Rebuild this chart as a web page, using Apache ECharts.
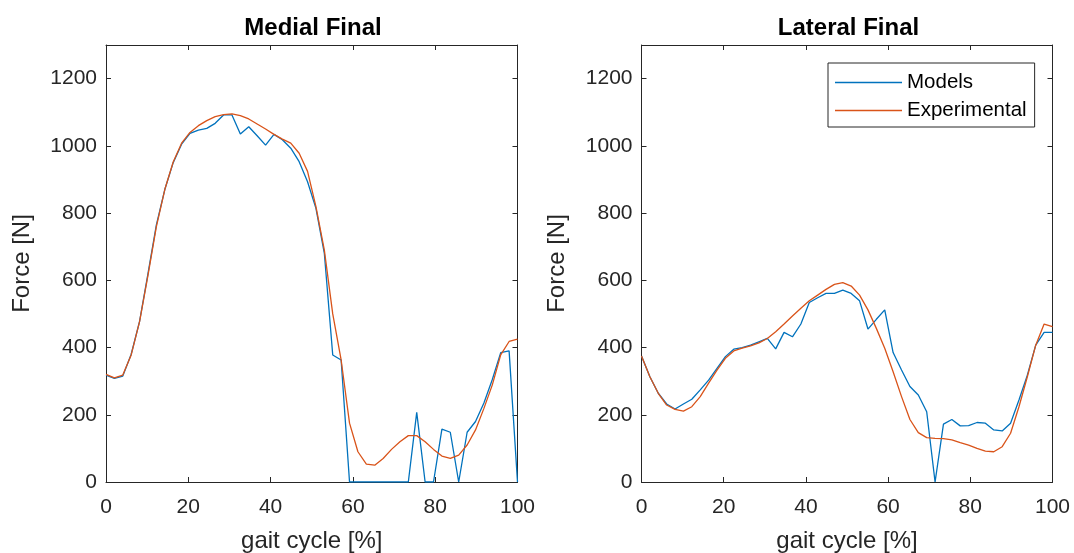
<!DOCTYPE html>
<html>
<head>
<meta charset="utf-8">
<script src="https://cdn.jsdelivr.net/npm/echarts@6/dist/echarts.min.js"></script>
<style>
html,body{margin:0;padding:0;background:#fff;}
#chart{width:1074px;height:553px;}
</style>
</head>
<body>
<div id="chart"></div>
<script>
// gait cycle sample positions [%] (50 samples)
const gaitPct = [0, 2.04, 4.08, 6.12, 8.16, 10.2, 12.24, 14.29, 16.33, 18.37,
  20.41, 22.45, 24.49, 26.53, 28.57, 30.61, 32.65, 34.69, 36.73, 38.78,
  40.82, 42.86, 44.9, 46.94, 48.98, 51.02, 53.06, 55.1, 57.14, 59.18,
  61.22, 63.27, 65.31, 67.35, 69.39, 71.43, 73.47, 75.51, 77.55, 79.59,
  81.63, 83.67, 85.71, 87.76, 89.8, 91.84, 93.88, 95.92, 97.96, 100];

const medialModels = [318, 308, 315, 380, 478, 620, 765, 870, 950, 1005,
  1037, 1047, 1052, 1067, 1092, 1092, 1035, 1057, 1030, 1002,
  1034, 1018, 993, 953, 893, 814, 680, 378, 363, 0,
  0, 0, 0, 0, 0, 0, 0, 207, 0, 0,
  157, 148, 0, 148, 180, 235, 305, 385, 390, 0];

const medialExperimental = [320, 310, 318, 378, 477, 615, 760, 870, 952, 1008,
  1040, 1060, 1075, 1087, 1093, 1095, 1090, 1080, 1065, 1050,
  1034, 1020, 1008, 978, 924, 819, 690, 500, 363, 175,
  90, 53, 50, 70, 97, 120, 138, 138, 120, 97,
  77, 70, 80, 110, 155, 219, 289, 378, 418, 425];

const lateralModels = [375, 313, 264, 232, 217, 232, 246, 274, 303, 338,
  373, 395, 400, 407, 417, 427, 396, 445, 432, 470,
  534, 548, 561, 561, 571, 561, 539, 455, 484, 512,
  385, 333, 284, 259, 209, 0, 172, 186, 167, 168,
  177, 175, 155, 152, 175, 244, 318, 407, 445, 445];

const lateralExperimental = [375, 313, 264, 229, 216, 211, 224, 254, 294, 333,
  368, 390, 398, 405, 414, 427, 447, 470, 494, 517,
  539, 556, 573, 588, 593, 583, 556, 512, 457, 398,
  328, 254, 186, 147, 132, 130, 129, 125, 117, 110,
  100, 92, 90, 105, 145, 224, 313, 407, 470, 462];

const xTicks = {min: 0, max: 100, interval: 20};
const yTicks = {min: 0, max: 1300, interval: 200};
const titles = ['Medial Final', 'Lateral Final'];
const seriesNames = ['Models', 'Experimental'];

const pair = vals => gaitPct.map((x, i) => [x, vals[i]]);

const AX = '#262626';
const FONT = 'Liberation Sans, Arial, Helvetica, sans-serif';

function xAxes(gi) {
  const base = {
    gridIndex: gi, type: 'value', min: xTicks.min, max: xTicks.max, interval: xTicks.interval,
    axisLine: {show: true, onZero: false, lineStyle: {color: AX, width: 1}},
    axisTick: {show: true, inside: true, length: 5, lineStyle: {color: AX}},
    splitLine: {show: false}
  };
  return [
    Object.assign({}, base, {
      position: 'bottom',
      name: 'gait cycle [%]', nameLocation: 'middle', nameGap: 47,
      nameTextStyle: {color: AX, fontSize: 24, fontFamily: FONT},
      axisLabel: {color: AX, fontSize: 21, fontFamily: FONT, margin: 15, formatter: v => String(v)}
    }),
    Object.assign({}, base, {position: 'top', axisLabel: {show: false}})
  ];
}
function yAxes(gi) {
  const base = {
    gridIndex: gi, type: 'value', min: yTicks.min, max: yTicks.max, interval: yTicks.interval,
    axisLine: {show: true, onZero: false, lineStyle: {color: AX, width: 1}},
    axisTick: {show: true, inside: true, length: 5, lineStyle: {color: AX}},
    splitLine: {show: false}
  };
  return [
    Object.assign({}, base, {
      position: 'left',
      name: 'Force [N]', nameLocation: 'middle', nameGap: 72,
      nameTextStyle: {color: AX, fontSize: 24, fontFamily: FONT},
      axisLabel: {color: AX, fontSize: 21, fontFamily: FONT, margin: 9, showMaxLabel: false,
                  formatter: v => String(v)}
    }),
    Object.assign({}, base, {position: 'right', axisLabel: {show: false}})
  ];
}

function line(name, data, color, gi) {
  return {
    name: name, type: 'line', data: pair(data),
    xAxisIndex: gi * 2, yAxisIndex: gi * 2,
    symbol: 'none', showSymbol: false, animation: false,
    lineStyle: {color: color, width: 1.3}, itemStyle: {color: color}
  };
}

const BLUE = '#0072BD', ORANGE = '#D95319';

const option = {
  backgroundColor: '#fff',
  animation: false,
  title: [
    {text: titles[0], left: 308, top: 11, textAlign: 'center',
     textStyle: {fontSize: 24, fontWeight: 'bold', color: '#000', fontFamily: FONT}},
    {text: titles[1], left: 843.5, top: 11, textAlign: 'center',
     textStyle: {fontSize: 24, fontWeight: 'bold', color: '#000', fontFamily: FONT}}
  ],
  legend: {
    data: seriesNames.map(n => ({name: n, icon: 'rect'})),
    orient: 'vertical', left: 828, top: 63,
    padding: [9, 8, 6, 7], itemGap: 7, itemWidth: 67, itemHeight: 1.5,
    borderColor: AX, borderWidth: 1, backgroundColor: '#fff',
    textStyle: {fontSize: 20.5, color: '#000', fontFamily: FONT},
    selectedMode: false
  },
  grid: [
    {left: 106, right: 556.5, top: 45, bottom: 71, containLabel: false, outerBoundsMode: 'none'},
    {left: 641.5, right: 21.5, top: 45, bottom: 71, containLabel: false, outerBoundsMode: 'none'}
  ],
  xAxis: [...xAxes(0), ...xAxes(1)],
  yAxis: [...yAxes(0), ...yAxes(1)],
  series: [
    line(seriesNames[0], medialModels, BLUE, 0),
    line(seriesNames[1], medialExperimental, ORANGE, 0),
    line(seriesNames[0], lateralModels, BLUE, 1),
    line(seriesNames[1], lateralExperimental, ORANGE, 1)
  ]
};

const chart = echarts.init(document.getElementById('chart'), null, {renderer: 'canvas'});
chart.setOption(option);
</script>
</body>
</html>
